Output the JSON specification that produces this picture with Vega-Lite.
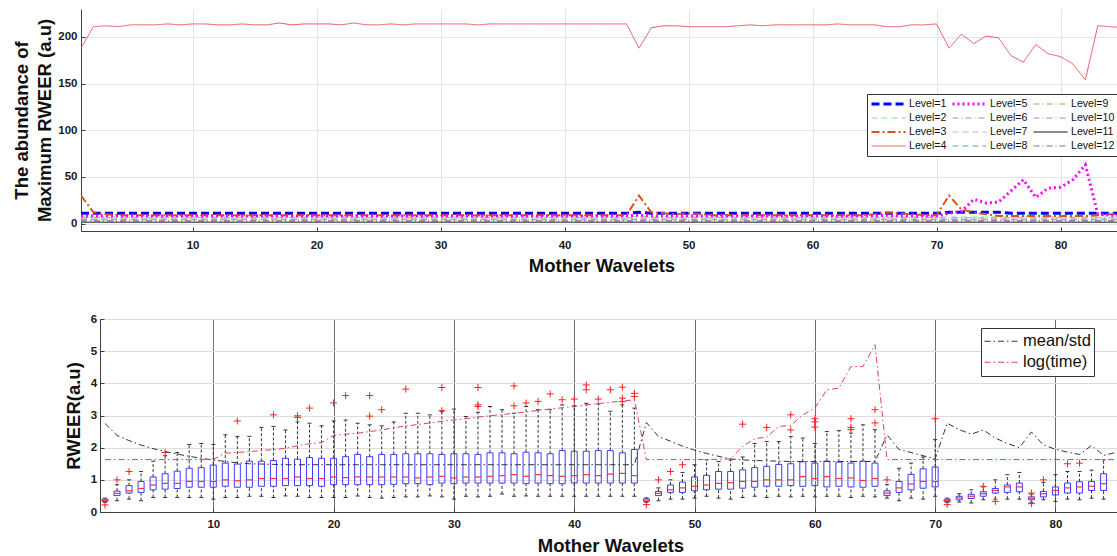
{
"$schema":"https://vega.github.io/schema/vega-lite/v6.json",
"background":"white",
"padding":{"left":12,"top":9,"right":0,"bottom":0},
"spacing":36,
"resolve":{"scale":{"color":"independent","strokeDash":"independent","strokeWidth":"independent"},"legend":{"color":"independent","strokeDash":"independent","strokeWidth":"independent"}},
"datasets":{
"top":[
{"w":1,"L1":11,"L2":7,"L3":30,"L4":188,"L5":8,"L6":6,"L7":5,"L8":4,"L9":3.5,"L10":3,"L11":1.5,"L12":2.5},
{"w":2,"L1":11,"L2":7,"L3":12,"L4":211,"L5":8,"L6":6,"L7":5,"L8":4,"L9":3.5,"L10":3,"L11":1.5,"L12":2.5},
{"w":3,"L1":11,"L2":7,"L3":10,"L4":212,"L5":8,"L6":6,"L7":5,"L8":4,"L9":3.5,"L10":3,"L11":1.5,"L12":2.5},
{"w":4,"L1":11,"L2":7,"L3":9,"L4":211,"L5":8,"L6":6,"L7":5,"L8":4,"L9":3.5,"L10":3,"L11":1.5,"L12":2.5},
{"w":5,"L1":11,"L2":7,"L3":9,"L4":213,"L5":8,"L6":6,"L7":5,"L8":4,"L9":3.5,"L10":3,"L11":1.5,"L12":2.5},
{"w":6,"L1":11,"L2":7,"L3":9,"L4":213,"L5":8,"L6":6,"L7":5,"L8":4,"L9":3.5,"L10":3,"L11":1.5,"L12":2.5},
{"w":7,"L1":11,"L2":7,"L3":9,"L4":213,"L5":8,"L6":6,"L7":5,"L8":4,"L9":3.5,"L10":3,"L11":1.5,"L12":2.5},
{"w":8,"L1":11,"L2":7,"L3":9,"L4":214,"L5":8,"L6":6,"L7":5,"L8":4,"L9":3.5,"L10":3,"L11":1.5,"L12":2.5},
{"w":9,"L1":11,"L2":7,"L3":9,"L4":213,"L5":8,"L6":6,"L7":5,"L8":4,"L9":3.5,"L10":3,"L11":1.5,"L12":2.5},
{"w":10,"L1":11,"L2":7,"L3":9,"L4":214,"L5":8,"L6":6,"L7":5,"L8":4,"L9":3.5,"L10":3,"L11":1.5,"L12":2.5},
{"w":11,"L1":11,"L2":7,"L3":9,"L4":214,"L5":8,"L6":6,"L7":5,"L8":4,"L9":3.5,"L10":3,"L11":1.5,"L12":2.5},
{"w":12,"L1":11,"L2":7,"L3":9,"L4":213,"L5":8,"L6":6,"L7":5,"L8":4,"L9":3.5,"L10":3,"L11":1.5,"L12":2.5},
{"w":13,"L1":11,"L2":7,"L3":9,"L4":213,"L5":8,"L6":6,"L7":5,"L8":4,"L9":3.5,"L10":3,"L11":1.5,"L12":2.5},
{"w":14,"L1":11,"L2":7,"L3":9,"L4":214,"L5":8,"L6":6,"L7":5,"L8":4,"L9":3.5,"L10":3,"L11":1.5,"L12":2.5},
{"w":15,"L1":11,"L2":7,"L3":9,"L4":213,"L5":8,"L6":6,"L7":5,"L8":4,"L9":3.5,"L10":3,"L11":1.5,"L12":2.5},
{"w":16,"L1":11,"L2":7,"L3":9,"L4":213,"L5":8,"L6":6,"L7":5,"L8":4,"L9":3.5,"L10":3,"L11":1.5,"L12":2.5},
{"w":17,"L1":11,"L2":7,"L3":9,"L4":215,"L5":8,"L6":6,"L7":5,"L8":4,"L9":3.5,"L10":3,"L11":1.5,"L12":2.5},
{"w":18,"L1":11,"L2":7,"L3":9,"L4":213,"L5":8,"L6":6,"L7":5,"L8":4,"L9":3.5,"L10":3,"L11":1.5,"L12":2.5},
{"w":19,"L1":11,"L2":7,"L3":9,"L4":214,"L5":8,"L6":6,"L7":5,"L8":4,"L9":3.5,"L10":3,"L11":1.5,"L12":2.5},
{"w":20,"L1":11,"L2":7,"L3":9,"L4":214,"L5":8,"L6":6,"L7":5,"L8":4,"L9":3.5,"L10":3,"L11":1.5,"L12":2.5},
{"w":21,"L1":11,"L2":7,"L3":9,"L4":214,"L5":8,"L6":6,"L7":5,"L8":4,"L9":3.5,"L10":3,"L11":1.5,"L12":2.5},
{"w":22,"L1":11,"L2":7,"L3":9,"L4":213,"L5":8,"L6":6,"L7":5,"L8":4,"L9":3.5,"L10":3,"L11":1.5,"L12":2.5},
{"w":23,"L1":11,"L2":7,"L3":9,"L4":215,"L5":8,"L6":6,"L7":5,"L8":4,"L9":3.5,"L10":3,"L11":1.5,"L12":2.5},
{"w":24,"L1":11,"L2":7,"L3":9,"L4":213,"L5":8,"L6":6,"L7":5,"L8":4,"L9":3.5,"L10":3,"L11":1.5,"L12":2.5},
{"w":25,"L1":11,"L2":7,"L3":9,"L4":213,"L5":8,"L6":6,"L7":5,"L8":4,"L9":3.5,"L10":3,"L11":1.5,"L12":2.5},
{"w":26,"L1":11,"L2":7,"L3":9,"L4":214,"L5":8,"L6":6,"L7":5,"L8":4,"L9":3.5,"L10":3,"L11":1.5,"L12":2.5},
{"w":27,"L1":11,"L2":7,"L3":9,"L4":213,"L5":8,"L6":6,"L7":5,"L8":4,"L9":3.5,"L10":3,"L11":1.5,"L12":2.5},
{"w":28,"L1":11,"L2":7,"L3":9,"L4":214,"L5":8,"L6":6,"L7":5,"L8":4,"L9":3.5,"L10":3,"L11":1.5,"L12":2.5},
{"w":29,"L1":11,"L2":7,"L3":9,"L4":214,"L5":8,"L6":6,"L7":5,"L8":4,"L9":3.5,"L10":3,"L11":1.5,"L12":2.5},
{"w":30,"L1":11,"L2":7,"L3":9,"L4":214,"L5":8,"L6":6,"L7":5,"L8":4,"L9":3.5,"L10":3,"L11":1.5,"L12":2.5},
{"w":31,"L1":11,"L2":7,"L3":9,"L4":214,"L5":8,"L6":6,"L7":5,"L8":4,"L9":3.5,"L10":3,"L11":1.5,"L12":2.5},
{"w":32,"L1":11,"L2":7,"L3":9,"L4":214,"L5":8,"L6":6,"L7":5,"L8":4,"L9":3.5,"L10":3,"L11":1.5,"L12":2.5},
{"w":33,"L1":11,"L2":7,"L3":9,"L4":213,"L5":8,"L6":6,"L7":5,"L8":4,"L9":3.5,"L10":3,"L11":1.5,"L12":2.5},
{"w":34,"L1":11,"L2":7,"L3":9,"L4":214,"L5":8,"L6":6,"L7":5,"L8":4,"L9":3.5,"L10":3,"L11":1.5,"L12":2.5},
{"w":35,"L1":11,"L2":7,"L3":9,"L4":214,"L5":8,"L6":6,"L7":5,"L8":4,"L9":3.5,"L10":3,"L11":1.5,"L12":2.5},
{"w":36,"L1":11,"L2":7,"L3":9,"L4":214,"L5":8,"L6":6,"L7":5,"L8":4,"L9":3.5,"L10":3,"L11":1.5,"L12":2.5},
{"w":37,"L1":11,"L2":7,"L3":9,"L4":214,"L5":8,"L6":6,"L7":5,"L8":4,"L9":3.5,"L10":3,"L11":1.5,"L12":2.5},
{"w":38,"L1":11,"L2":7,"L3":9,"L4":214,"L5":8,"L6":6,"L7":5,"L8":4,"L9":3.5,"L10":3,"L11":1.5,"L12":2.5},
{"w":39,"L1":11,"L2":7,"L3":9,"L4":214,"L5":8,"L6":6,"L7":5,"L8":4,"L9":3.5,"L10":3,"L11":1.5,"L12":2.5},
{"w":40,"L1":11,"L2":7,"L3":9,"L4":214,"L5":8,"L6":6,"L7":5,"L8":4,"L9":3.5,"L10":3,"L11":1.5,"L12":2.5},
{"w":41,"L1":11,"L2":7,"L3":9,"L4":214,"L5":8,"L6":6,"L7":5,"L8":4,"L9":3.5,"L10":3,"L11":1.5,"L12":2.5},
{"w":42,"L1":11,"L2":7,"L3":9,"L4":214,"L5":8,"L6":6,"L7":5,"L8":4,"L9":3.5,"L10":3,"L11":1.5,"L12":2.5},
{"w":43,"L1":11,"L2":7,"L3":9,"L4":214,"L5":8,"L6":6,"L7":5,"L8":4,"L9":3.5,"L10":3,"L11":1.5,"L12":2.5},
{"w":44,"L1":11,"L2":7,"L3":9,"L4":214,"L5":8,"L6":6,"L7":5,"L8":4,"L9":3.5,"L10":3,"L11":1.5,"L12":2.5},
{"w":45,"L1":11,"L2":7,"L3":9,"L4":214,"L5":8,"L6":6,"L7":5,"L8":4,"L9":3.5,"L10":3,"L11":1.5,"L12":2.5},
{"w":46,"L1":12,"L2":8,"L3":30,"L4":188,"L5":9,"L6":6,"L7":5,"L8":4,"L9":3.5,"L10":3,"L11":1.5,"L12":2.5},
{"w":47,"L1":11,"L2":7,"L3":12,"L4":210,"L5":8,"L6":6,"L7":5,"L8":4,"L9":3.5,"L10":3,"L11":1.5,"L12":2.5},
{"w":48,"L1":11,"L2":7,"L3":11,"L4":212,"L5":8,"L6":6,"L7":5,"L8":4,"L9":3.5,"L10":3,"L11":1.5,"L12":2.5},
{"w":49,"L1":11,"L2":7,"L3":10,"L4":212,"L5":8,"L6":6,"L7":5,"L8":4,"L9":3.5,"L10":3,"L11":1.5,"L12":2.5},
{"w":50,"L1":11,"L2":7,"L3":11,"L4":211,"L5":8,"L6":6,"L7":5,"L8":4,"L9":3.5,"L10":3,"L11":1.5,"L12":2.5},
{"w":51,"L1":11,"L2":7,"L3":10,"L4":211,"L5":8,"L6":6,"L7":5,"L8":4,"L9":3.5,"L10":3,"L11":1.5,"L12":2.5},
{"w":52,"L1":11,"L2":7,"L3":9,"L4":211,"L5":8,"L6":6,"L7":5,"L8":4,"L9":3.5,"L10":3,"L11":1.5,"L12":2.5},
{"w":53,"L1":11,"L2":7,"L3":9,"L4":211,"L5":8,"L6":6,"L7":5,"L8":4,"L9":3.5,"L10":3,"L11":1.5,"L12":2.5},
{"w":54,"L1":11,"L2":7,"L3":9,"L4":212,"L5":8,"L6":6,"L7":5,"L8":4,"L9":3.5,"L10":3,"L11":1.5,"L12":2.5},
{"w":55,"L1":11,"L2":7,"L3":9,"L4":213,"L5":8,"L6":6,"L7":5,"L8":4,"L9":3.5,"L10":3,"L11":1.5,"L12":2.5},
{"w":56,"L1":11,"L2":7,"L3":9,"L4":212,"L5":8,"L6":6,"L7":5,"L8":4,"L9":3.5,"L10":3,"L11":1.5,"L12":2.5},
{"w":57,"L1":11,"L2":7,"L3":9,"L4":213,"L5":8,"L6":6,"L7":5,"L8":4,"L9":3.5,"L10":3,"L11":1.5,"L12":2.5},
{"w":58,"L1":11,"L2":7,"L3":9,"L4":213,"L5":8,"L6":6,"L7":5,"L8":4,"L9":3.5,"L10":3,"L11":1.5,"L12":2.5},
{"w":59,"L1":11,"L2":7,"L3":9,"L4":213,"L5":8,"L6":6,"L7":5,"L8":4,"L9":3.5,"L10":3,"L11":1.5,"L12":2.5},
{"w":60,"L1":11,"L2":7,"L3":9,"L4":213,"L5":8,"L6":6,"L7":5,"L8":4,"L9":3.5,"L10":3,"L11":1.5,"L12":2.5},
{"w":61,"L1":11,"L2":7,"L3":9,"L4":213,"L5":8,"L6":6,"L7":5,"L8":4,"L9":3.5,"L10":3,"L11":1.5,"L12":2.5},
{"w":62,"L1":11,"L2":7,"L3":9,"L4":214,"L5":8,"L6":6,"L7":5,"L8":4,"L9":3.5,"L10":3,"L11":1.5,"L12":2.5},
{"w":63,"L1":11,"L2":7,"L3":9,"L4":213,"L5":8,"L6":6,"L7":5,"L8":4,"L9":3.5,"L10":3,"L11":1.5,"L12":2.5},
{"w":64,"L1":11,"L2":7,"L3":9,"L4":213,"L5":8,"L6":6,"L7":5,"L8":4,"L9":3.5,"L10":3,"L11":1.5,"L12":2.5},
{"w":65,"L1":11,"L2":7,"L3":10,"L4":213,"L5":8,"L6":6,"L7":5,"L8":4,"L9":3.5,"L10":3,"L11":1.5,"L12":2.5},
{"w":66,"L1":11,"L2":7,"L3":12,"L4":211,"L5":9,"L6":6,"L7":5,"L8":4,"L9":3.5,"L10":3,"L11":1.5,"L12":2.5},
{"w":67,"L1":11,"L2":7,"L3":11,"L4":211,"L5":8,"L6":6,"L7":5,"L8":4,"L9":3.5,"L10":3,"L11":1.5,"L12":2.5},
{"w":68,"L1":11,"L2":7,"L3":10,"L4":213,"L5":8,"L6":6,"L7":5,"L8":4,"L9":3.5,"L10":3,"L11":1.5,"L12":2.5},
{"w":69,"L1":11,"L2":7,"L3":9,"L4":213,"L5":8,"L6":6,"L7":5,"L8":4,"L9":3.5,"L10":3,"L11":1.5,"L12":2.5},
{"w":70,"L1":11,"L2":7,"L3":9,"L4":214,"L5":8,"L6":6,"L7":5,"L8":4,"L9":3.5,"L10":3,"L11":1.5,"L12":2.5},
{"w":71,"L1":12,"L2":7,"L3":30,"L4":188,"L5":11,"L6":6,"L7":5,"L8":4,"L9":3.5,"L10":3,"L11":1.5,"L12":2.5},
{"w":72,"L1":12,"L2":7,"L3":15,"L4":203,"L5":13,"L6":6,"L7":5,"L8":4,"L9":3.5,"L10":3,"L11":1.5,"L12":2.5},
{"w":73,"L1":12,"L2":7,"L3":12,"L4":193,"L5":26,"L6":6,"L7":5,"L8":4,"L9":3.5,"L10":3,"L11":1.5,"L12":2.5},
{"w":74,"L1":12,"L2":7,"L3":10,"L4":201,"L5":22,"L6":6,"L7":5,"L8":4,"L9":3.5,"L10":3,"L11":1.5,"L12":2.5},
{"w":75,"L1":12,"L2":7,"L3":8,"L4":199,"L5":23,"L6":6,"L7":5,"L8":4,"L9":3.5,"L10":3,"L11":1.5,"L12":2.5},
{"w":76,"L1":11,"L2":7,"L3":8,"L4":180,"L5":35,"L6":6,"L7":5,"L8":4,"L9":3.5,"L10":3,"L11":1.5,"L12":2.5},
{"w":77,"L1":11,"L2":7,"L3":8,"L4":173,"L5":47,"L6":6,"L7":5,"L8":4,"L9":3.5,"L10":3,"L11":1.5,"L12":2.5},
{"w":78,"L1":11,"L2":7,"L3":8,"L4":192,"L5":28,"L6":6,"L7":5,"L8":4,"L9":3.5,"L10":3,"L11":1.5,"L12":2.5},
{"w":79,"L1":11,"L2":7,"L3":8,"L4":182,"L5":38,"L6":6,"L7":5,"L8":4,"L9":3.5,"L10":3,"L11":1.5,"L12":2.5},
{"w":80,"L1":11,"L2":7,"L3":8,"L4":179,"L5":39,"L6":6,"L7":5,"L8":4,"L9":3.5,"L10":3,"L11":1.5,"L12":2.5},
{"w":81,"L1":11,"L2":7,"L3":8,"L4":171,"L5":47,"L6":6,"L7":5,"L8":4,"L9":3.5,"L10":3,"L11":1.5,"L12":2.5},
{"w":82,"L1":11,"L2":7,"L3":8,"L4":154,"L5":63,"L6":6,"L7":5,"L8":4,"L9":3.5,"L10":3,"L11":1.5,"L12":2.5},
{"w":83,"L1":11,"L2":7,"L3":9,"L4":212,"L5":10,"L6":6,"L7":5,"L8":4,"L9":3.5,"L10":3,"L11":1.5,"L12":2.5},
{"w":84,"L1":11,"L2":7,"L3":10,"L4":211,"L5":9,"L6":6,"L7":5,"L8":4,"L9":3.5,"L10":3,"L11":1.5,"L12":2.5},
{"w":85,"L1":11,"L2":7,"L3":10,"L4":210,"L5":9,"L6":6,"L7":5,"L8":4,"L9":3.5,"L10":3,"L11":1.5,"L12":2.5}
],
"box":[
{"w":1,"lo":0.30,"q1":0.33,"md":0.36,"q3":0.40,"hi":0.43,"ms":2.75,"lt":1.63},
{"w":2,"lo":0.35,"q1":0.51,"md":0.58,"q3":0.65,"hi":0.85,"ms":2.38,"lt":1.63},
{"w":3,"lo":0.40,"q1":0.59,"md":0.66,"q3":0.82,"hi":1.00,"ms":2.22,"lt":1.63},
{"w":4,"lo":0.35,"q1":0.61,"md":0.73,"q3":0.95,"hi":1.26,"ms":2.08,"lt":1.63},
{"w":5,"lo":0.45,"q1":0.69,"md":0.84,"q3":1.09,"hi":1.58,"ms":1.97,"lt":1.63},
{"w":6,"lo":0.45,"q1":0.71,"md":0.89,"q3":1.19,"hi":1.75,"ms":1.88,"lt":1.63},
{"w":7,"lo":0.45,"q1":0.73,"md":0.89,"q3":1.27,"hi":1.85,"ms":1.80,"lt":1.63},
{"w":8,"lo":0.45,"q1":0.77,"md":0.95,"q3":1.36,"hi":2.10,"ms":1.73,"lt":1.63},
{"w":9,"lo":0.45,"q1":0.77,"md":0.95,"q3":1.38,"hi":2.13,"ms":1.67,"lt":1.63},
{"w":10,"lo":0.40,"q1":0.77,"md":0.95,"q3":1.46,"hi":2.10,"ms":1.62,"lt":1.63},
{"w":11,"lo":0.45,"q1":0.80,"md":1.00,"q3":1.52,"hi":2.40,"ms":1.57,"lt":1.83},
{"w":12,"lo":0.45,"q1":0.77,"md":0.97,"q3":1.49,"hi":2.35,"ms":1.53,"lt":1.85},
{"w":13,"lo":0.49,"q1":0.77,"md":1.00,"q3":1.58,"hi":2.35,"ms":1.50,"lt":1.88},
{"w":14,"lo":0.49,"q1":0.80,"md":1.04,"q3":1.58,"hi":2.63,"ms":1.49,"lt":1.91},
{"w":15,"lo":0.45,"q1":0.80,"md":1.04,"q3":1.60,"hi":2.66,"ms":1.48,"lt":1.94},
{"w":16,"lo":0.50,"q1":0.82,"md":1.04,"q3":1.67,"hi":2.55,"ms":1.47,"lt":1.98},
{"w":17,"lo":0.49,"q1":0.82,"md":1.09,"q3":1.64,"hi":2.80,"ms":1.47,"lt":2.06},
{"w":18,"lo":0.45,"q1":0.82,"md":1.04,"q3":1.69,"hi":2.76,"ms":1.47,"lt":2.12},
{"w":19,"lo":0.45,"q1":0.80,"md":1.04,"q3":1.67,"hi":2.68,"ms":1.47,"lt":2.16},
{"w":20,"lo":0.45,"q1":0.85,"md":1.09,"q3":1.67,"hi":2.83,"ms":1.47,"lt":2.38},
{"w":21,"lo":0.45,"q1":0.85,"md":1.07,"q3":1.72,"hi":2.86,"ms":1.47,"lt":2.42},
{"w":22,"lo":0.50,"q1":0.85,"md":1.09,"q3":1.79,"hi":2.76,"ms":1.47,"lt":2.45},
{"w":23,"lo":0.45,"q1":0.85,"md":1.09,"q3":1.72,"hi":2.71,"ms":1.47,"lt":2.50},
{"w":24,"lo":0.43,"q1":0.85,"md":1.09,"q3":1.79,"hi":2.68,"ms":1.47,"lt":2.55},
{"w":25,"lo":0.45,"q1":0.86,"md":1.09,"q3":1.79,"hi":2.80,"ms":1.47,"lt":2.62},
{"w":26,"lo":0.47,"q1":0.88,"md":1.09,"q3":1.81,"hi":3.07,"ms":1.47,"lt":2.67},
{"w":27,"lo":0.47,"q1":0.88,"md":1.06,"q3":1.81,"hi":3.07,"ms":1.47,"lt":2.72},
{"w":28,"lo":0.50,"q1":0.85,"md":1.09,"q3":1.81,"hi":3.02,"ms":1.47,"lt":2.77},
{"w":29,"lo":0.47,"q1":0.90,"md":1.11,"q3":1.79,"hi":3.13,"ms":1.47,"lt":2.82},
{"w":30,"lo":0.40,"q1":0.88,"md":1.06,"q3":1.81,"hi":3.20,"ms":1.47,"lt":2.86},
{"w":31,"lo":0.49,"q1":0.90,"md":1.09,"q3":1.81,"hi":2.97,"ms":1.47,"lt":2.90},
{"w":32,"lo":0.47,"q1":0.90,"md":1.09,"q3":1.79,"hi":3.10,"ms":1.47,"lt":2.95},
{"w":33,"lo":0.49,"q1":0.90,"md":1.11,"q3":1.84,"hi":3.28,"ms":1.47,"lt":2.99},
{"w":34,"lo":0.56,"q1":0.90,"md":1.13,"q3":1.84,"hi":3.18,"ms":1.47,"lt":3.03},
{"w":35,"lo":0.49,"q1":0.90,"md":1.16,"q3":1.81,"hi":3.07,"ms":1.47,"lt":3.07},
{"w":36,"lo":0.50,"q1":0.88,"md":1.11,"q3":1.86,"hi":3.28,"ms":1.47,"lt":3.11},
{"w":37,"lo":0.49,"q1":0.90,"md":1.16,"q3":1.84,"hi":3.18,"ms":1.47,"lt":3.16},
{"w":38,"lo":0.49,"q1":0.88,"md":1.13,"q3":1.81,"hi":3.18,"ms":1.47,"lt":3.20},
{"w":39,"lo":0.49,"q1":0.88,"md":1.11,"q3":1.91,"hi":3.33,"ms":1.47,"lt":3.24},
{"w":40,"lo":0.49,"q1":0.90,"md":1.13,"q3":1.89,"hi":3.30,"ms":1.47,"lt":3.28},
{"w":41,"lo":0.49,"q1":0.90,"md":1.16,"q3":1.89,"hi":3.38,"ms":1.47,"lt":3.33},
{"w":42,"lo":0.49,"q1":0.90,"md":1.13,"q3":1.91,"hi":3.36,"ms":1.47,"lt":3.37},
{"w":43,"lo":0.49,"q1":0.90,"md":1.18,"q3":1.91,"hi":3.13,"ms":1.47,"lt":3.41},
{"w":44,"lo":0.49,"q1":0.90,"md":1.20,"q3":1.84,"hi":3.33,"ms":1.47,"lt":3.45},
{"w":45,"lo":0.49,"q1":0.90,"md":1.13,"q3":1.94,"hi":3.23,"ms":1.47,"lt":3.49},
{"w":46,"lo":0.30,"q1":0.33,"md":0.37,"q3":0.41,"hi":0.44,"ms":2.78,"lt":1.63},
{"w":47,"lo":0.35,"q1":0.51,"md":0.58,"q3":0.64,"hi":0.75,"ms":2.35,"lt":1.63},
{"w":48,"lo":0.40,"q1":0.61,"md":0.69,"q3":0.84,"hi":1.00,"ms":2.20,"lt":1.63},
{"w":49,"lo":0.40,"q1":0.61,"md":0.75,"q3":0.93,"hi":1.23,"ms":2.05,"lt":1.63},
{"w":50,"lo":0.43,"q1":0.66,"md":0.80,"q3":1.09,"hi":1.47,"ms":1.92,"lt":1.63},
{"w":51,"lo":0.49,"q1":0.69,"md":0.84,"q3":1.14,"hi":1.62,"ms":1.82,"lt":1.63},
{"w":52,"lo":0.43,"q1":0.71,"md":0.89,"q3":1.26,"hi":1.57,"ms":1.73,"lt":1.64},
{"w":53,"lo":0.40,"q1":0.71,"md":0.91,"q3":1.26,"hi":1.62,"ms":1.65,"lt":1.65},
{"w":54,"lo":0.45,"q1":0.74,"md":0.95,"q3":1.31,"hi":1.71,"ms":1.62,"lt":2.04},
{"w":55,"lo":0.49,"q1":0.77,"md":0.95,"q3":1.38,"hi":2.13,"ms":1.60,"lt":2.28},
{"w":56,"lo":0.45,"q1":0.80,"md":1.00,"q3":1.42,"hi":2.19,"ms":1.59,"lt":2.33},
{"w":57,"lo":0.49,"q1":0.80,"md":1.00,"q3":1.48,"hi":2.19,"ms":1.58,"lt":2.66},
{"w":58,"lo":0.47,"q1":0.82,"md":1.00,"q3":1.50,"hi":2.35,"ms":1.57,"lt":2.69},
{"w":59,"lo":0.49,"q1":0.80,"md":1.10,"q3":1.56,"hi":2.30,"ms":1.57,"lt":3.02},
{"w":60,"lo":0.47,"q1":0.82,"md":1.04,"q3":1.52,"hi":2.13,"ms":1.57,"lt":3.23},
{"w":61,"lo":0.49,"q1":0.78,"md":1.10,"q3":1.58,"hi":2.50,"ms":1.57,"lt":3.80},
{"w":62,"lo":0.49,"q1":0.80,"md":1.04,"q3":1.55,"hi":2.53,"ms":1.57,"lt":3.85},
{"w":63,"lo":0.45,"q1":0.78,"md":1.06,"q3":1.52,"hi":2.45,"ms":1.57,"lt":4.52},
{"w":64,"lo":0.49,"q1":0.77,"md":0.98,"q3":1.58,"hi":2.71,"ms":1.57,"lt":4.52},
{"w":65,"lo":0.47,"q1":0.80,"md":1.04,"q3":1.52,"hi":2.56,"ms":1.57,"lt":5.20},
{"w":66,"lo":0.43,"q1":0.51,"md":0.59,"q3":0.66,"hi":0.85,"ms":2.40,"lt":1.63},
{"w":67,"lo":0.35,"q1":0.61,"md":0.75,"q3":0.95,"hi":1.36,"ms":1.94,"lt":1.63},
{"w":68,"lo":0.43,"q1":0.69,"md":0.87,"q3":1.17,"hi":1.52,"ms":1.85,"lt":1.63},
{"w":69,"lo":0.40,"q1":0.74,"md":0.95,"q3":1.34,"hi":1.71,"ms":1.75,"lt":1.63},
{"w":70,"lo":0.49,"q1":0.78,"md":0.95,"q3":1.40,"hi":2.25,"ms":1.65,"lt":1.63},
{"w":71,"lo":0.30,"q1":0.32,"md":0.36,"q3":0.40,"hi":0.43,"ms":2.76,"lt":1.63},
{"w":72,"lo":0.31,"q1":0.38,"md":0.44,"q3":0.49,"hi":0.57,"ms":2.56,"lt":1.63},
{"w":73,"lo":0.28,"q1":0.42,"md":0.49,"q3":0.55,"hi":0.69,"ms":2.42,"lt":1.63},
{"w":74,"lo":0.38,"q1":0.49,"md":0.57,"q3":0.63,"hi":0.78,"ms":2.55,"lt":1.63},
{"w":75,"lo":0.40,"q1":0.59,"md":0.67,"q3":0.73,"hi":1.00,"ms":2.30,"lt":1.63},
{"w":76,"lo":0.40,"q1":0.61,"md":0.78,"q3":0.84,"hi":1.16,"ms":2.13,"lt":1.63},
{"w":77,"lo":0.40,"q1":0.63,"md":0.78,"q3":0.90,"hi":1.23,"ms":2.00,"lt":1.63},
{"w":78,"lo":0.30,"q1":0.38,"md":0.43,"q3":0.47,"hi":0.55,"ms":2.49,"lt":1.63},
{"w":79,"lo":0.38,"q1":0.47,"md":0.57,"q3":0.64,"hi":0.92,"ms":2.08,"lt":1.63},
{"w":80,"lo":0.33,"q1":0.53,"md":0.67,"q3":0.78,"hi":1.16,"ms":1.95,"lt":1.63},
{"w":81,"lo":0.40,"q1":0.59,"md":0.75,"q3":0.90,"hi":1.26,"ms":1.86,"lt":1.63},
{"w":82,"lo":0.38,"q1":0.59,"md":0.78,"q3":0.94,"hi":1.26,"ms":1.79,"lt":1.63},
{"w":83,"lo":0.43,"q1":0.67,"md":0.80,"q3":0.95,"hi":1.30,"ms":2.07,"lt":1.63},
{"w":84,"lo":0.40,"q1":0.67,"md":0.88,"q3":1.19,"hi":1.62,"ms":1.76,"lt":1.63},
{"w":85,"lo":0.45,"q1":0.70,"md":0.90,"q3":1.20,"hi":1.60,"ms":1.85,"lt":1.63}
],
"out":[
{"w":1,"v":0.22},{"w":2,"v":1.0},{"w":3,"v":1.26},{"w":6,"v":1.85},{"w":12,"v":2.83},{"w":15,"v":3.02},
{"w":17,"v":2.94},{"w":17,"v":2.99},{"w":18,"v":3.23},{"w":20,"v":3.39},{"w":21,"v":3.62},{"w":23,"v":2.98},
{"w":23,"v":3.62},{"w":24,"v":3.18},{"w":26,"v":3.82},{"w":29,"v":3.15},{"w":29,"v":3.87},{"w":32,"v":3.28},
{"w":32,"v":3.33},{"w":32,"v":3.87},{"w":35,"v":3.3},{"w":35,"v":3.92},{"w":36,"v":3.39},{"w":37,"v":3.44},
{"w":38,"v":3.67},{"w":39,"v":3.49},{"w":40,"v":3.51},{"w":41,"v":3.8},{"w":41,"v":3.95},{"w":42,"v":3.51},
{"w":43,"v":3.8},{"w":44,"v":3.43},{"w":44,"v":3.54},{"w":44,"v":3.88},{"w":45,"v":3.59},{"w":45,"v":3.69},
{"w":46,"v":0.23},{"w":47,"v":1.0},{"w":48,"v":1.26},{"w":49,"v":1.47},{"w":54,"v":2.73},{"w":56,"v":2.63},
{"w":58,"v":2.55},{"w":58,"v":3.02},{"w":60,"v":2.64},{"w":60,"v":2.8},{"w":60,"v":2.9},{"w":63,"v":2.56},
{"w":63,"v":2.63},{"w":63,"v":2.9},{"w":65,"v":2.77},{"w":65,"v":3.18},{"w":66,"v":1.0},{"w":70,"v":2.9},
{"w":71,"v":0.23},{"w":74,"v":0.8},{"w":75,"v":0.33},{"w":78,"v":0.59},{"w":78,"v":0.26},{"w":79,"v":1.0},
{"w":81,"v":1.5},{"w":82,"v":1.52}
]
},
"vconcat":[
{
"width":1036,"height":222,
"data":{"name":"top"},
"transform":[{"fold":["L1","L2","L3","L4","L5","L6","L7","L8","L9","L10","L11","L12"],"as":["k","v"]}],
"mark":{"type":"line","clip":true},
"encoding":{
"x":{"field":"w","type":"quantitative","scale":{"domain":[1,84.55],"nice":false,"zero":false},
"axis":{"values":[10,20,30,40,50,60,70,80],"title":"Mother Wavelets","grid":true,"labelPadding":12.8,"titlePadding":5.5,"titleX":520.5,"labelFlush":false}},
"y":{"field":"v","type":"quantitative","scale":{"domain":[-8,230],"nice":false,"zero":false},
"axis":{"values":[0,50,100,150,200],"title":["The abundance of","Maximum RWEER (a.u)"],"titleLineHeight":23,"grid":true,"labelPadding":8,"titlePadding":3.5}},
"color":{"field":"k","type":"nominal",
"scale":{"domain":["L1","L2","L3","L4","L5","L6","L7","L8","L9","L10","L11","L12"],
"range":["#0000ff","#88e088","#d95319","#e8555d","#ff00ff","#b88a96","#bbbbbb","#5fa89a","#a3a36a","#a88cb0","#666666","#8a5fc8"]},
"legend":{"title":null,"orient":"none","legendX":786,"legendY":85,"columns":3,"symbolType":"stroke","symbolSize":1156,"clipHeight":14,"rowPadding":0,"columnPadding":4,"labelFontSize":10.6,"labelOffset":2,"padding":3,"strokeColor":"#333333","fillColor":"white","labelExpr":"'Level=' + substring(datum.label, 1)"}},
"strokeDash":{"field":"k","type":"nominal",
"scale":{"domain":["L1","L2","L3","L4","L5","L6","L7","L8","L9","L10","L11","L12"],
"range":[[8,4],[6,4],[8,3,2,3],[1,0],[2,3],[6,3,1,3],[6,4],[6,4],[6,3,1,3],[6,3,1,3],[1,0],[6,3,1,3]]}},
"strokeWidth":{"field":"k","type":"nominal",
"scale":{"type":"ordinal","domain":["L1","L2","L3","L4","L5","L6","L7","L8","L9","L10","L11","L12"],
"range":[3,1,2,1,3,1,1,1,1,1,1.5,1]}}
}
},
{
"hconcat":[
{"width":19,"height":20,"data":{"values":[{"a":0}]},"mark":{"type":"point","opacity":0},"encoding":{}},
{
"width":1017,"height":193,
"view":{"stroke":"#444444"},
"encoding":{"x":{"field":"w","type":"quantitative","scale":{"domain":[1,84.7],"nice":false,"zero":false},
"axis":{"values":[10,20,30,40,50,60,70,80],"title":"Mother Wavelets","grid":true,"gridColor":"#707070","labelPadding":10.9,"titlePadding":6.2,"titleX":510.5,"labelFlush":false}}},
"layer":[
{"data":{"name":"box"},"transform":[{"filter":"datum.w < 85"}],"mark":{"type":"rule","color":"#333333","strokeDash":[3,2],"strokeWidth":1},
"encoding":{"y":{"field":"q3","type":"quantitative","scale":{"domain":[0,6],"nice":false,"zero":false},
"axis":{"values":[0,1,2,3,4,5,6],"title":"RWEER(a.u)","grid":true,"gridColor":"#dddddd","labelPadding":7.3,"titlePadding":6.4}},"y2":{"field":"hi"}}},
{"data":{"name":"box"},"transform":[{"filter":"datum.w < 85"}],"mark":{"type":"rule","color":"#333333","strokeDash":[3,2],"strokeWidth":1},
"encoding":{"y":{"field":"lo","type":"quantitative","axis":{"values":[0,1,2,3,4,5,6],"title":"RWEER(a.u)","grid":true,"gridColor":"#dddddd","labelPadding":7.3,"titlePadding":6.4}},"y2":{"field":"q1"}}},
{"data":{"name":"box"},"transform":[{"filter":"datum.w < 85"}],"mark":{"type":"tick","orient":"horizontal","size":4,"thickness":1,"color":"#333333","opacity":1},
"encoding":{"y":{"field":"hi","type":"quantitative","axis":{"values":[0,1,2,3,4,5,6],"title":"RWEER(a.u)","grid":true,"gridColor":"#dddddd","labelPadding":7.3,"titlePadding":6.4}}}},
{"data":{"name":"box"},"transform":[{"filter":"datum.w < 85"}],"mark":{"type":"tick","orient":"horizontal","size":4,"thickness":1,"color":"#333333","opacity":1},
"encoding":{"y":{"field":"lo","type":"quantitative","axis":{"values":[0,1,2,3,4,5,6],"title":"RWEER(a.u)","grid":true,"gridColor":"#dddddd","labelPadding":7.3,"titlePadding":6.4}}}},
{"data":{"name":"box"},"transform":[{"filter":"datum.w < 85"}],"mark":{"type":"bar","width":6,"fill":"white","fillOpacity":0,"stroke":"#3b3bff","strokeWidth":1},
"encoding":{"y":{"field":"q1","type":"quantitative","axis":{"values":[0,1,2,3,4,5,6],"title":"RWEER(a.u)","grid":true,"gridColor":"#dddddd","labelPadding":7.3,"titlePadding":6.4}},"y2":{"field":"q3"}}},
{"data":{"name":"box"},"transform":[{"filter":"datum.w < 85"}],"mark":{"type":"tick","orient":"horizontal","size":6,"thickness":1.2,"color":"#ff3030","opacity":1},
"encoding":{"y":{"field":"md","type":"quantitative","axis":{"values":[0,1,2,3,4,5,6],"title":"RWEER(a.u)","grid":true,"gridColor":"#dddddd","labelPadding":7.3,"titlePadding":6.4}}}},
{"data":{"name":"out"},"mark":{"type":"point","shape":"M-1,0L1,0M0,-1L0,1","size":49,"filled":false,"stroke":"#ff2020","strokeWidth":1,"opacity":1},
"encoding":{"y":{"field":"v","type":"quantitative","axis":{"values":[0,1,2,3,4,5,6],"title":"RWEER(a.u)","grid":true,"gridColor":"#dddddd","labelPadding":7.3,"titlePadding":6.4}}}},
{"data":{"name":"box"},"transform":[{"fold":["ms","lt"],"as":["s","val"]}],"mark":{"type":"line","strokeWidth":1,"clip":true},
"encoding":{"y":{"field":"val","type":"quantitative","axis":{"values":[0,1,2,3,4,5,6],"title":"RWEER(a.u)","grid":true,"gridColor":"#dddddd","labelPadding":7.3,"titlePadding":6.4}},
"color":{"field":"s","type":"nominal","scale":{"domain":["ms","lt"],"range":["#333333","#e0405a"]},
"legend":{"title":null,"orient":"none","legendX":900,"legendY":9,"symbolType":"stroke","symbolSize":1156,"clipHeight":20.5,"rowPadding":0,"labelFontSize":16.5,"labelOffset":4,"padding":3,"strokeColor":"#333333","fillColor":"white","symbolStrokeWidth":1,"labelExpr":"datum.label == 'ms' ? 'mean/std' : 'log(time)'"}},
"strokeDash":{"field":"s","type":"nominal","scale":{"domain":["ms","lt"],"range":[[6,3,1.5,3],[6,3,1.5,3]]}}}}
]
}
],
"spacing":0,
"bounds":"flush"
}
],
"config":{
"font":"Liberation Sans",
"view":{"stroke":null},
"axis":{"labelFont":"Liberation Sans","labelFontWeight":"bold","labelFontSize":11.5,"labelColor":"#1a1a1a","titleFont":"Liberation Sans","titleFontWeight":"bold","titleFontSize":18.5,"titleColor":"#111111","domainColor":"#404040","tickColor":"#404040","tickSize":-4,"gridColor":"#e4e4e4","labelOverlap":false},
"legend":{"labelFont":"Liberation Sans","labelColor":"#111111"}
}
}
